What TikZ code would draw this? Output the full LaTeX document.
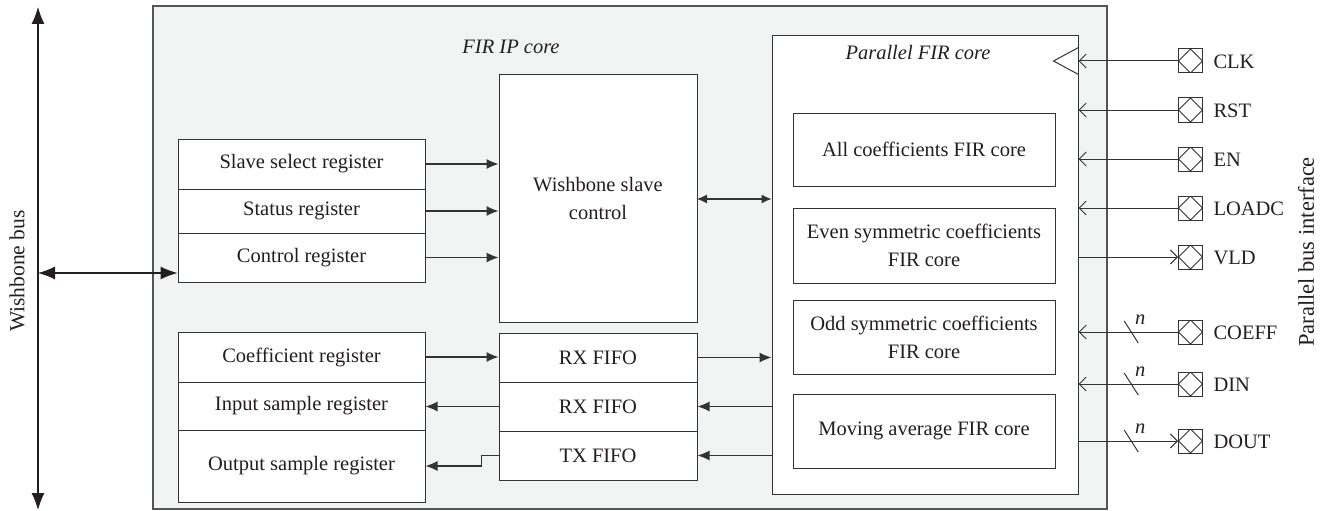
\documentclass[tikz,border=0pt]{standalone}
\usepackage{fontspec}
\setmainfont{Liberation Serif}
\usetikzlibrary{arrows.meta,calc}
\definecolor{corefill}{HTML}{F2F3F3}
\definecolor{ink}{HTML}{231F20}
\definecolor{edge}{HTML}{333333}
\definecolor{frame}{HTML}{555555}

\begin{document}
\begin{tikzpicture}[x=1pt,y=-1pt,
  txt/.style={font=\fontsize{20.5}{28}\selectfont, text=ink},
  itxt/.style={font=\fontsize{20.5}{28}\selectfont\itshape, text=ink},
  blk/.style={txt, draw=edge, fill=white, line width=1pt, inner sep=0pt, align=center},
  arr/.style={draw=edge, line width=1.1pt, -{Latex[length=12pt,width=10pt]}},
  dblarr/.style={draw=edge, line width=1.1pt, {Latex[length=10pt,width=9pt]}-{Latex[length=10pt,width=9pt]}},
  busarr/.style={draw=ink, line width=1.1pt, {Latex[length=17pt,width=13pt]}-{Latex[length=17pt,width=13pt]}},
  pinarr/.style={draw=edge, line width=1pt, -{Straight Barb[length=7pt,width=14pt]}},
  pinbox/.style={draw=edge, fill=white, line width=1pt, minimum size=24pt, inner sep=0pt,
    path picture={\draw[edge, line width=1pt]
      (path picture bounding box.north) -- (path picture bounding box.east) --
      (path picture bounding box.south) -- (path picture bounding box.west) -- cycle;}},
  slash/.style={draw=edge, line width=1pt},
]
\useasboundingbox (0,0) rectangle (1326,511);

% Wishbone bus
\coordinate (bt) at (38,7);
\coordinate (bb) at (38,510);
\coordinate (bj) at (38,273);
\draw[busarr] (bt) -- (bb);
\node[txt, font=\fontsize{21.5}{28}\selectfont, rotate=90] (wbl) at (17,271) {Wishbone bus};

% FIR IP core frame
\node[draw=frame, fill=corefill, line width=1.3pt, minimum width=954pt, minimum height=503pt, inner sep=0pt] (ip) at (630,257.5) {};
\node[itxt] (iplbl) at (511,47) {FIR IP core};

% register file
\node[blk, minimum width=247pt, minimum height=50pt] (ssr) at (301.5,164) {Slave select register};
\node[blk, minimum width=247pt, minimum height=44pt] (str) at (301.5,211) {Status register};
\node[blk, minimum width=247pt, minimum height=49pt] (ctr) at (301.5,257.5) {Control register};
\node[blk, minimum width=247pt, minimum height=50pt] (cor) at (301.5,357) {Coefficient register};
\node[blk, minimum width=247pt, minimum height=48pt] (isr) at (301.5,406) {Input sample register};
\node[blk, minimum width=247pt, minimum height=72pt] (osr) at (301.5,466) {Output sample register};

% slave control and FIFOs
\node[blk, minimum width=198pt, minimum height=247pt] (wsc) at (598,198.5) {Wishbone slave\\control};
\node[blk, minimum width=198pt, minimum height=49pt] (rx1) at (598,357.5) {RX FIFO};
\node[blk, minimum width=198pt, minimum height=49pt] (rx2) at (598,406.5) {RX FIFO};
\node[blk, minimum width=198pt, minimum height=49pt] (tx) at (598,455.5) {TX FIFO};

% parallel FIR core
\node[blk, minimum width=306pt, minimum height=458pt] (pfc) at (925,265) {};
\node[itxt] (pfclbl) at (918,52) {Parallel FIR core};
\node[blk, minimum width=262pt, minimum height=73pt] (fa) at (924,149.5) {All coefficients FIR core};
\node[blk, minimum width=262pt, minimum height=75pt] (fe) at (924,245.5) {Even symmetric coefficients\\FIR core};
\node[blk, minimum width=262pt, minimum height=74pt] (fo) at (924,337) {Odd symmetric coefficients\\FIR core};
\node[blk, minimum width=262pt, minimum height=74pt] (fm) at (924,431) {Moving average FIR core};

% internal connections
\draw[busarr] (bj) -- (bj -| ctr.west);
\draw[arr] (ssr.east) -- (ssr.east -| wsc.west);
\draw[arr] (str.east) -- (str.east -| wsc.west);
\draw[arr] (ctr.east) -- (ctr.east -| wsc.west);
\coordinate (wj) at (697,199);
\draw[dblarr] (wj) -- (wj -| pfc.west);
\draw[arr] (cor.east -| ssr.east) -- (rx1.west |- cor.east);
\draw[arr] (rx1.east) -- (rx1.east -| pfc.west);
\draw[arr] (rx2.west) -- (rx2.west -| isr.east);
\draw[arr] (rx2.east -| pfc.west) -- (rx2.east);
\draw[arr] (tx.east -| pfc.west) -- (tx.east);
\draw[arr] (tx.west) -- ++(-17,0) |- (osr.east);

% parallel bus interface pins
\foreach \nm/\lbl/\yy in {clk/CLK/61, rst/RST/110, en/EN/159, loadc/LOADC/208,
                          vld/VLD/257, coeff/COEFF/332, din/DIN/384, dout/DOUT/441}{
  \node[pinbox] (\nm) at (1190.5,\yy) {};
  \node[txt, anchor=west] (\nm lbl) at ($(\nm.east)+(7,1)$) {\lbl};
}
\node[txt, font=\fontsize{22.5}{28}\selectfont, rotate=90] (pbl) at (1306,252) {Parallel bus interface};

% clock input symbol
\draw[edge, line width=1pt] (pfc.east |- clk) ++(0,-13.5) -- ++(-25,13.5) -- ++(25,13.5);

\foreach \nm in {clk,rst,en,loadc,coeff,din}{
  \draw[pinarr] (\nm.west) -- (\nm.west -| pfc.east);
}
\foreach \nm in {vld,dout}{
  \draw[pinarr] (\nm.west -| pfc.east) -- (\nm.west);
}

% bus width marks
\foreach \nm in {coeff,din,dout}{
  \path (\nm.west -| pfc.east) -- (\nm.west) coordinate[pos=0.53] (\nm s);
  \draw[slash] (\nm s) ++(-7,-11) -- ++(14,22);
  \node[itxt] (\nm n) at ($(\nm s)+(9,-12)$) {n};
}
\end{tikzpicture}
\end{document}
